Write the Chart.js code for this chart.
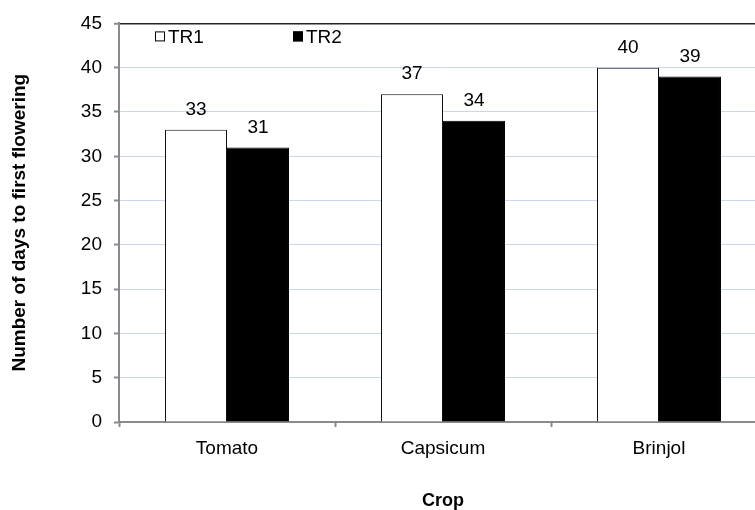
<!DOCTYPE html>
<html>
<head>
<meta charset="utf-8">
<script src="https://cdn.jsdelivr.net/npm/chart.js@4.4.1/dist/chart.umd.min.js"></script>
<style>
  html, body { margin: 0; padding: 0; background: #fff; overflow: hidden; }
  #wrap { width: 755px; height: 510px; overflow: hidden; position: relative; }
  canvas { display: block; }
</style>
</head>
<body>
<div id="wrap"><canvas id="c" width="767" height="510"></canvas></div>
<script>
// Days to first flowering per crop, for the two treatments
const crops = ['Tomato', 'Capsicum', 'Brinjol'];
const tr1 = [33, 37, 40];
const tr2 = [31, 34, 39];
const seriesNames = ['TR1', 'TR2'];
const yMin = 0, yMax = 45, yStep = 5;
const yTitle = 'Number of days to first flowering';
const xTitle = 'Crop';

const FONT = "'Liberation Sans', Arial, sans-serif";
const AXIS_GREY = '#8a8a8a';
const GRID_BLUE = '#c8d7ea';

// Value printed above each bar
const barValues = {
  id: 'barValues',
  afterDatasetsDraw(chart) {
    const ctx = chart.ctx;
    ctx.save();
    ctx.font = '19px ' + FONT;
    ctx.fillStyle = '#000';
    ctx.textAlign = 'center';
    ctx.textBaseline = 'middle';
    chart.data.datasets.forEach((ds, i) => {
      chart.getDatasetMeta(i).data.forEach((bar, j) => {
        ctx.fillText(String(ds.data[j]), bar.x, bar.y - 20);
      });
    });
    ctx.restore();
  }
};

// Legend drawn inside the plot, top-left
const innerLegend = {
  id: 'innerLegend',
  afterDraw(chart) {
    const ctx = chart.ctx;
    const a = chart.chartArea;
    const xs = [a.left + 36, a.left + 174];
    const cy = a.top + 13;
    const box = 10;
    ctx.save();
    ctx.font = '19px ' + FONT;
    ctx.textBaseline = 'middle';
    ctx.textAlign = 'left';
    chart.data.datasets.forEach((ds, i) => {
      const x = xs[i];
      ctx.fillStyle = ds.backgroundColor;
      ctx.fillRect(x, cy - box / 2, box, box);
      ctx.strokeStyle = '#000';
      ctx.lineWidth = 1;
      ctx.strokeRect(x + 0.5, cy - box / 2 + 0.5, box - 1, box - 1);
      ctx.fillStyle = '#000';
      ctx.fillText(ds.label, x + box + 3, cy + 1);
    });
    ctx.restore();
  }
};

new Chart(document.getElementById('c'), {
  type: 'bar',
  data: {
    labels: crops,
    datasets: [
      { label: seriesNames[0], data: tr1, backgroundColor: '#ffffff', borderColor: '#111', borderWidth: 1 },
      { label: seriesNames[1], data: tr2, backgroundColor: '#000000', borderColor: '#000', borderWidth: 1 }
    ]
  },
  options: {
    responsive: false,
    animation: false,
    devicePixelRatio: 1,
    layout: { padding: { top: 21, left: 0, right: 0, bottom: 0 } },
    datasets: { bar: { categoryPercentage: 0.574, barPercentage: 1.0 } },
    plugins: { legend: { display: false }, tooltip: { enabled: false } },
    scales: {
      x: {
        offset: true,
        grid: {
          display: true, offset: true, drawOnChartArea: false, drawTicks: true,
          tickLength: 5, tickColor: AXIS_GREY, tickWidth: 2
        },
        border: { display: true, color: AXIS_GREY, width: 2 },
        ticks: { font: { family: FONT, size: 19 }, color: '#000', padding: 10, maxRotation: 0 },
        title: {
          display: true, text: xTitle, color: '#000',
          font: { family: FONT, size: 18, weight: 'bold' },
          padding: { top: 0, bottom: -2 }
        },
        afterFit(scale) { scale.height = 88; }
      },
      y: {
        min: yMin, max: yMax,
        ticks: { stepSize: yStep, font: { family: FONT, size: 19 }, color: '#000', padding: 12 },
        grid: {
          color: (c) => (c.tick && c.tick.value === yMax ? '#222' : GRID_BLUE),
          lineWidth: (c) => (c.tick && c.tick.value === yMax ? 1.5 : 1),
          tickLength: 5, tickColor: AXIS_GREY, tickWidth: 2
        },
        border: { display: true, color: AXIS_GREY, width: 2 },
        title: {
          display: true, text: yTitle, color: '#000',
          font: { family: FONT, size: 19, weight: 'bold' },
          padding: { top: 8, bottom: 0 }
        },
        afterFit(scale) { scale.width = 119; }
      }
    }
  },
  plugins: [barValues, innerLegend]
});
</script>
</body>
</html>
